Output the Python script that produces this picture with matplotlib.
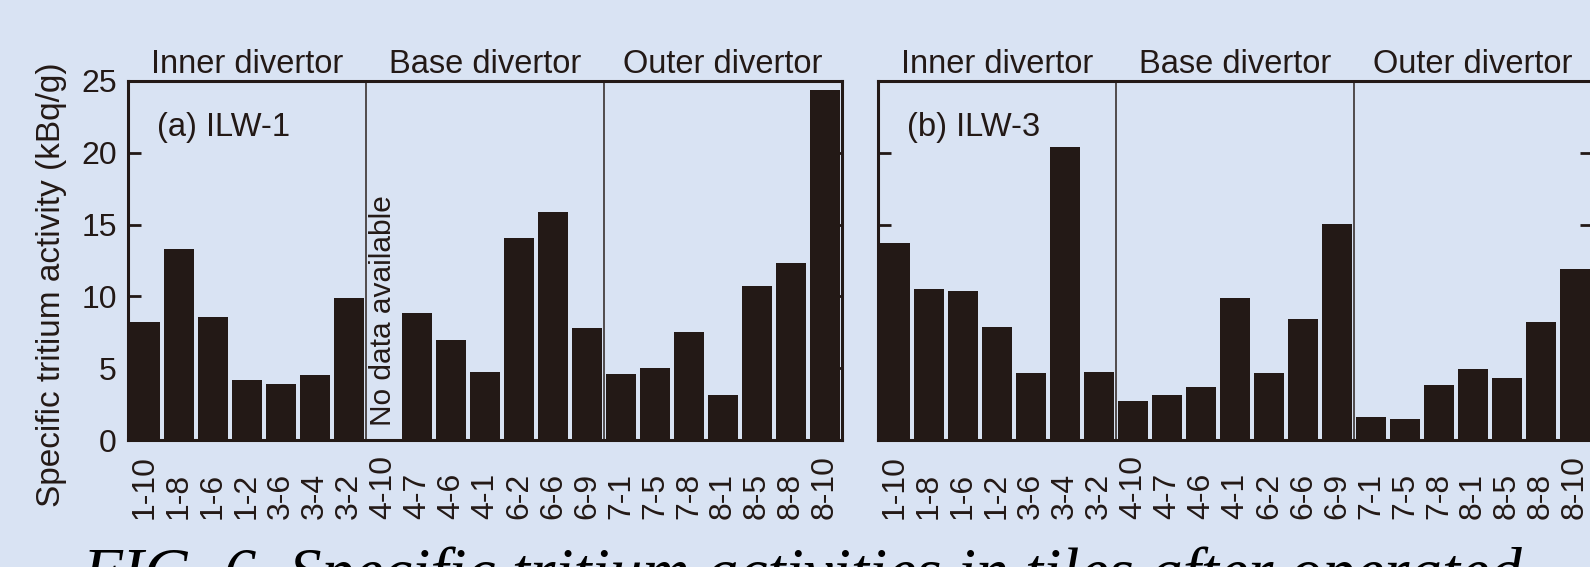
import numpy as np
import matplotlib.pyplot as plt
from matplotlib.transforms import blended_transform_factory

# Tile positions along the divertor (poloidal row - tile)
tiles = ['1-10', '1-8', '1-6', '1-2', '3-6', '3-4', '3-2',
         '4-10', '4-7', '4-6', '4-1', '6-2', '6-6', '6-9',
         '7-1', '7-5', '7-8', '8-1', '8-5', '8-8', '8-10']
sections = ['Inner divertor', 'Base divertor', 'Outer divertor']

# Specific tritium activity (kBq/g); no sample for 4-10 in ILW-1
ilw1 = [8.2, 13.3, 8.6, 4.2, 3.9, 4.55, 9.9,
        np.nan, 8.85, 6.95, 4.75, 14.1, 15.9, 7.8,
        4.6, 5.0, 7.55, 3.15, 10.7, 12.3, 24.4]
ilw3 = [13.7, 10.5, 10.35, 7.9, 4.7, 20.4, 4.75,
        2.7, 3.1, 3.7, 9.9, 4.7, 8.45, 15.05,
        1.6, 1.45, 3.85, 4.95, 4.35, 8.2, 11.9]
panel_names = ['(a) ILW-1', '(b) ILW-3']

bg = '#d9e3f3'
bar_color = '#231916'
ink = '#231916'
sans = 'Liberation Sans'

fig = plt.figure(figsize=(15.9, 5.67), dpi=100, facecolor=bg)

W, H = 1590, 567
ax_w, ax_h = 714 / W, 359 / H
ax_y = (H - 440) / H
ax1 = fig.add_axes([128 / W, ax_y, ax_w, ax_h])
ax2 = fig.add_axes([878 / W, ax_y, ax_w, ax_h])

x = np.arange(len(tiles))
for ax, vals, name in zip([ax1, ax2], [ilw1, ilw3], panel_names):
    ax.set_facecolor(bg)
    ax.bar(x, vals, width=0.86, color=bar_color, edgecolor='none')
    ax.set_xlim(-0.5, len(tiles) - 0.5)
    ax.set_ylim(0, 25)
    ax.set_yticks([0, 5, 10, 15, 20, 25])
    ax.set_xticks([])
    for s in ax.spines.values():
        s.set_linewidth(2.2)
        s.set_color(ink)
    ax.tick_params(axis='y', direction='in', length=9, width=2.0, color=ink,
                   left=True, right=True, labelsize=23, labelcolor=ink, pad=8)
    for lab in ax.get_yticklabels():
        lab.set_fontfamily(sans)

    # section dividers
    for xd in [6.5, 13.5]:
        ax.axvline(xd, color='#3a3230', lw=1.2)

    trans = blended_transform_factory(ax.transData, ax.transAxes)
    for i, sec in enumerate(sections):
        ax.text(7 * i + 3, 1.022, sec, transform=trans, ha='center',
                va='baseline', fontsize=23.5, fontfamily=sans, color=ink)

    # rotated tile labels, aligned at their starting end
    for xi, t in zip(x, tiles):
        ax.text(xi, -0.22, t, transform=trans, rotation=90, ha='center',
                va='bottom', fontsize=23, fontfamily=sans, color=ink)

    ax.text(0.04, 0.87, name, transform=ax.transAxes, ha='left', va='center',
            fontsize=23.5, fontfamily=sans, color=ink)

ax2.tick_params(axis='y', labelleft=False)

ax1.text(7, 0.04, 'No data available', rotation=90, ha='center', va='bottom',
         transform=blended_transform_factory(ax1.transData, ax1.transAxes),
         fontsize=21.5, fontfamily=sans, color=ink)

fig.text(52 / W, 1 - 285 / H, 'Specific tritium activity (kBq/g)', rotation=90,
         ha='center', va='center', fontsize=24, fontfamily=sans, color=ink)

fig.text(82 / W, -0.045, 'FIG. 6. Specific tritium activities in tiles after operated',
         ha='left', va='baseline', fontsize=47, fontfamily='Liberation Serif',
         style='italic', color='black')

fig.savefig('out.png', dpi=100, facecolor=bg)
